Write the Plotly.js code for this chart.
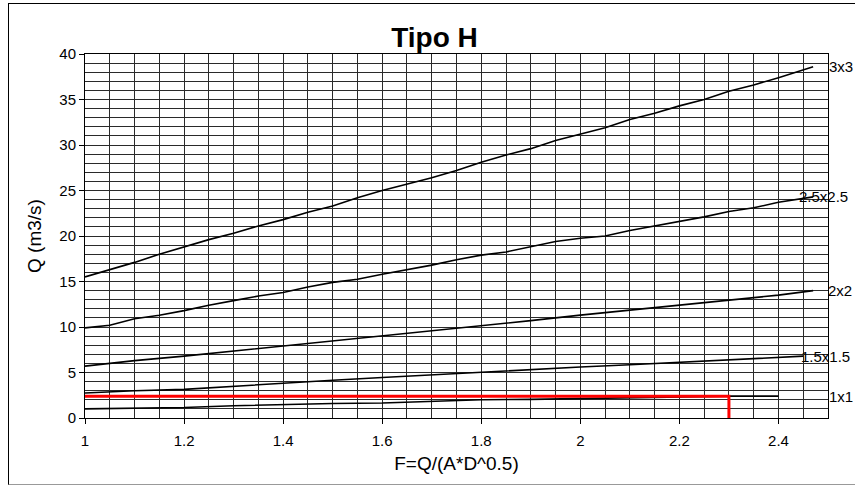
<!DOCTYPE html>
<html>
<head>
<meta charset="utf-8">
<script src="https://cdn.plot.ly/plotly-3.0.1.min.js"></script>
<style>
  html, body { margin: 0; padding: 0; background: #fff; }
  #wrap { position: relative; width: 855px; height: 485px; }
  #chart { width: 855px; height: 485px; }
  #frame { position: absolute; left: 8px; top: 3px; width: 860px; height: 480px;
           border-left: 1px solid #000; border-top: 1px solid #000; border-bottom: 1px solid #999;
           pointer-events: none; }
</style>
</head>
<body>
<div id="wrap">
  <div id="chart"></div>
  <div id="frame"></div>
</div>
<script>
// ---- data ----
const F_3x3 = [1.0, 1.05, 1.1, 1.15, 1.2, 1.25, 1.3, 1.35, 1.4, 1.45, 1.5, 1.55, 1.6, 1.65, 1.7, 1.75, 1.8, 1.85, 1.9, 1.95, 2.0, 2.05, 2.1, 2.15, 2.2, 2.25, 2.3, 2.35, 2.4, 2.45, 2.47];
const Q_3x3 = [15.5, 16.3, 17.1, 18.0, 18.8, 19.6, 20.3, 21.1, 21.8, 22.6, 23.3, 24.2, 25.0, 25.7, 26.4, 27.2, 28.1, 28.9, 29.6, 30.5, 31.2, 31.9, 32.8, 33.5, 34.3, 35.0, 35.9, 36.6, 37.4, 38.2, 38.6];

const F_25x25 = [1.0, 1.05, 1.1, 1.15, 1.2, 1.25, 1.3, 1.35, 1.4, 1.45, 1.5, 1.55, 1.6, 1.65, 1.7, 1.75, 1.8, 1.85, 1.9, 1.95, 2.0, 2.05, 2.1, 2.15, 2.2, 2.25, 2.3, 2.35, 2.4, 2.45, 2.47];
const Q_25x25 = [9.9, 10.2, 10.9, 11.3, 11.8, 12.4, 12.9, 13.4, 13.8, 14.4, 14.9, 15.25, 15.8, 16.3, 16.8, 17.4, 17.9, 18.25, 18.85, 19.4, 19.75, 20.0, 20.6, 21.1, 21.6, 22.1, 22.7, 23.1, 23.7, 24.1, 24.3];

const F_2x2 = [1.0, 1.1, 1.2, 1.3, 1.4, 1.5, 1.6, 1.7, 1.8, 1.9, 2.0, 2.1, 2.2, 2.3, 2.4, 2.47];
const Q_2x2 = [5.7, 6.3, 6.8, 7.35, 7.9, 8.45, 9.05, 9.6, 10.1, 10.7, 11.3, 11.85, 12.4, 13.0, 13.5, 14.0];

const F_15x15 = [1.0, 1.1, 1.2, 1.3, 1.4, 1.5, 1.6, 1.7, 1.8, 1.9, 2.0, 2.1, 2.2, 2.3, 2.4, 2.45];
const Q_15x15 = [2.75, 3.0, 3.15, 3.5, 3.8, 4.15, 4.45, 4.75, 5.05, 5.3, 5.6, 5.85, 6.1, 6.35, 6.6, 6.8];

const F_1x1 = [1.0, 1.1, 1.2, 1.3, 1.4, 1.5, 1.6, 1.7, 1.8, 1.9, 2.0, 2.1, 2.2, 2.3, 2.4];
const Q_1x1 = [1.0, 1.05, 1.15, 1.35, 1.5, 1.6, 1.65, 1.85, 2.0, 2.05, 2.15, 2.25, 2.35, 2.4, 2.4];

const F_red = [1.0, 2.3, 2.3];
const Q_red = [2.4, 2.4, 0];

const seriesLabels = ['3x3', '2.5x2.5', '2x2', '1.5x1.5', '1x1'];
const xTickVals = [1, 1.2, 1.4, 1.6, 1.8, 2, 2.2, 2.4];
const xTickText = ['1', '1.2', '1.4', '1.6', '1.8', '2', '2.2', '2.4'];
const yTickVals = [0, 5, 10, 15, 20, 25, 30, 35, 40];
const yTickText = ['0', '5', '10', '15', '20', '25', '30', '35', '40'];

// ---- build ----
const FONT = 'Liberation Sans, Arial, Helvetica, sans-serif';
const seriesF = [F_3x3, F_25x25, F_2x2, F_15x15, F_1x1];
const seriesQ = [Q_3x3, Q_25x25, Q_2x2, Q_15x15, Q_1x1];
const labelShift = [14, -16, 13, -4, 49];

const traces = seriesF.map((f, i) => ({
  x: f, y: seriesQ[i], type: 'scatter', mode: 'lines',
  line: { color: '#000', width: 1.6 }, hoverinfo: 'skip', showlegend: false
}));
traces.push({
  x: F_red, y: Q_red, type: 'scatter', mode: 'lines',
  line: { color: '#ff0000', width: 3 }, hoverinfo: 'skip', showlegend: false
});

const annotations = seriesLabels.map((t, i) => {
  const f = seriesF[i], q = seriesQ[i];
  return {
    x: f[f.length - 1], y: q[q.length - 1], xref: 'x', yref: 'y',
    text: t, showarrow: false, xanchor: 'left', yanchor: 'middle',
    xshift: labelShift[i], font: { family: FONT, size: 15, color: '#000' }
  };
});

const gridColor = '#2a2a2a';
const layout = {
  width: 855, height: 485,
  margin: { l: 85, r: 27, t: 54, b: 67, pad: 0 },
  paper_bgcolor: '#fff', plot_bgcolor: '#fff',
  font: { family: FONT, color: '#000' },
  title: {
    text: '<b>Tipo H</b>', x: 434.5 / 855, xanchor: 'center', xref: 'container',
    y: 1 - 37 / 485, yanchor: 'middle', yref: 'container',
    font: { family: FONT, size: 28, color: '#000' }
  },
  xaxis: {
    range: [1, 2.5], tickmode: 'array', tickvals: xTickVals, ticktext: xTickText,
    ticks: 'outside', ticklen: 5, tickcolor: '#000', tickwidth: 1, ticklabelstandoff: 4,
    showline: true, mirror: true, linecolor: '#000', linewidth: 1,
    showgrid: true, gridcolor: gridColor, gridwidth: 1,
    minor: { dtick: 0.05, tick0: 1, showgrid: true, gridcolor: gridColor, gridwidth: 1, ticks: '' },
    zeroline: false, fixedrange: true,
    tickfont: { family: FONT, size: 15, color: '#000' },
    title: { text: 'F=Q/(A*D^0.5)', standoff: 8, font: { family: FONT, size: 19, color: '#000' } }
  },
  yaxis: {
    range: [0, 40], tickmode: 'array', tickvals: yTickVals, ticktext: yTickText,
    ticks: 'outside', ticklen: 5, tickcolor: '#000', tickwidth: 1,
    showline: true, mirror: true, linecolor: '#000', linewidth: 1,
    showgrid: true, gridcolor: gridColor, gridwidth: 1,
    minor: { dtick: 1, tick0: 0, showgrid: true, gridcolor: gridColor, gridwidth: 1, ticks: '' },
    zeroline: false, fixedrange: true,
    tickfont: { family: FONT, size: 15, color: '#000' },
    title: { text: 'Q (m3/s)', standoff: 12, font: { family: FONT, size: 19, color: '#000' } }
  },
  annotations: annotations,
  showlegend: false
};

Plotly.newPlot('chart', traces, layout, { displayModeBar: false, staticPlot: true });
</script>
</body>
</html>
